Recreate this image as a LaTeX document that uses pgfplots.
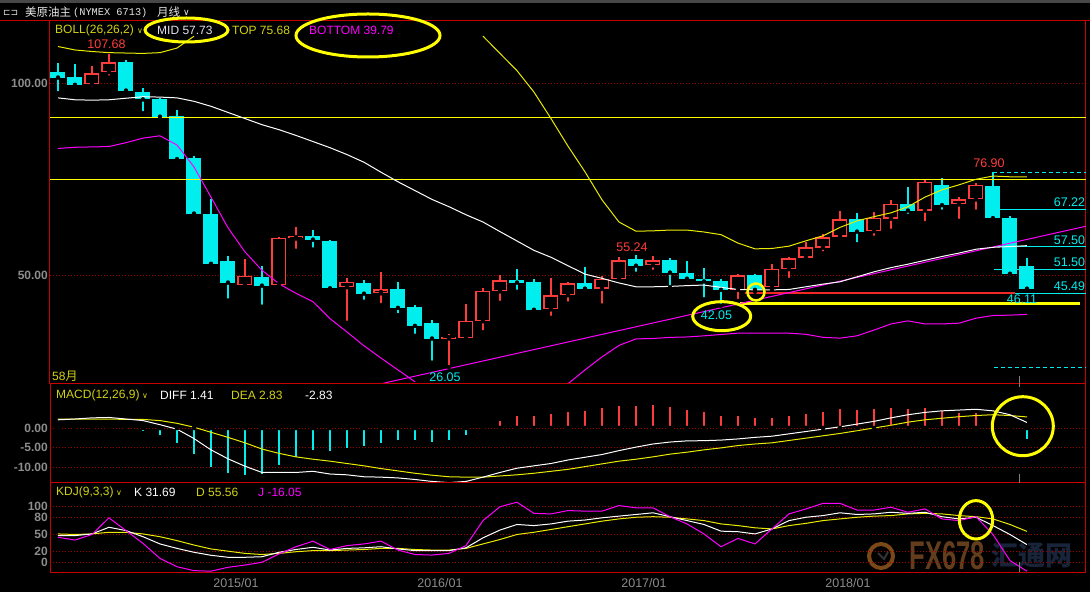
\documentclass[border=0pt]{standalone}
\usepackage{fontspec}
\setmainfont{Liberation Sans}
\newfontfamily\cjk{Noto Sans CJK SC}
\newfontfamily\mono{Liberation Mono}
\newfontfamily\dv{DejaVu Sans}
\usepackage{pgfplots}
\usepackage{pgfplotstable}
\pgfplotsset{compat=1.18}

\definecolor{bred}{RGB}{200,0,0}
\definecolor{gred}{RGB}{165,0,0}
\definecolor{ccyan}{RGB}{0,238,238}
\definecolor{cred}{RGB}{255,60,60}
\definecolor{lred}{RGB}{240,40,40}
\definecolor{byel}{RGB}{235,235,0}
\definecolor{hyel}{RGB}{255,255,0}
\definecolor{mag}{RGB}{255,0,255}
\definecolor{tgray}{RGB}{140,140,140}
\definecolor{lyel}{RGB}{210,210,20}
\definecolor{midw}{RGB}{225,225,240}
\definecolor{wmbrown}{RGB}{100,62,28}
\definecolor{wmblue}{RGB}{24,36,58}

% monthly candles, falling months (cyan): index open high low close
\pgfplotstableread{
i o h l c
0 103.1 105.5 97.5 101.6
1 101.7 105.1 99.1 99.7
4 105.7 106.2 97.6 98.2
5 97.8 98.8 92.3 95.9
6 96.0 96.2 90.3 91.4
7 91.6 93.1 79.4 80.3
8 80.6 81.1 65.5 66.1
9 66.0 69.8 52.2 53.0
10 53.7 55.0 43.4 48.1
12 49.6 52.4 41.8 47.3
15 60.3 61.8 56.7 59.3
16 59.0 59.2 46.5 46.6
18 48.1 48.8 43.1 45.2
20 46.4 48.3 39.6 41.5
21 41.7 42.2 34.2 36.8
22 37.5 38.3 27.2 33.5
27 48.8 51.6 45.7 48.1
28 48.3 49.0 40.2 41.0
31 48.0 52.2 46.4 46.5
34 54.2 55.24 50.4 52.5
36 54.0 54.5 46.9 50.7
37 50.6 53.7 48.1 49.1
38 49.0 51.9 43.7 48.4
39 48.5 49.0 42.05 46.2
41 50.1 50.4 45.7 46.2
47 64.6 66.3 58.1 61.4
50 68.6 73.1 65.5 66.9
52 73.6 75.3 66.6 68.3
55 73.3 76.9 64.8 64.9
56 64.9 65.5 49.2 50.4
57 52.4 54.5 46.1 46.5
}\downbars

% rising months (red, hollow)
\pgfplotstableread{
i o h l c
2 99.8 104.6 98.7 102.7
3 103.0 107.68 101.6 105.6
11 47.4 54.3 46.5 49.8
13 47.4 60.0 46.8 59.7
14 59.6 62.6 56.4 60.3
17 46.9 49.2 37.6 48.2
19 45.3 50.9 42.2 46.3
23 33.5 34.6 26.05 34.0
24 33.6 42.5 33.1 38.1
25 38.0 46.7 35.1 45.9
26 45.8 50.2 42.8 48.7
29 41.1 49.2 38.9 44.8
30 44.8 48.3 42.6 47.9
32 46.5 49.8 42.1 49.0
33 49.0 54.7 48.8 53.9
35 52.6 54.96 50.9 53.9
40 46.2 50.4 43.3 50.0
42 46.9 52.9 46.2 51.6
43 51.6 54.9 48.8 54.4
44 54.6 58.8 53.8 57.3
45 57.2 60.8 55.7 59.9
46 60.1 66.8 59.4 64.6
48 61.5 66.5 59.8 64.9
49 64.8 69.7 61.6 68.6
51 66.9 74.9 63.6 74.3
53 68.5 70.5 64.2 69.8
54 69.8 74.0 66.6 73.6
}\upbars

% BOLL(26,26,2)
\pgfplotstableread{
i top mid bot
0 109.7 96.3 83.1
1 108.8 95.8 83.4
2 108.4 95.7 83.5
3 108.1 95.8 83.6
4 108.0 96.2 84.6
5 107.9 96.6 85.8
6 108.1 96.5 86.4
7 109.3 96.3 84.0
8 112.4 95.4 78.3
9 nan 94.1 70.4
10 nan 92.5 62.4
11 nan 90.9 56.1
12 nan 89.3 51.3
13 nan 88.0 47.8
14 nan 86.5 45.3
15 nan 84.9 43.1
16 nan 83.3 38.7
17 nan 81.5 35.2
18 nan 79.5 31.6
19 nan 76.9 28.4
20 nan 74.4 25.3
21 nan 72.1 22.2
22 nan 69.8 nan
23 nan 67.9 nan
24 nan 65.8 nan
25 112.4 63.9 nan
26 107.9 61.4 nan
27 103.4 58.95 nan
28 97.8 56.5 nan
29 90.9 54.7 nan
30 83.7 52.5 21.7
31 77.0 50.3 25.3
32 69.7 49.2 28.7
33 63.9 48.0 31.7
34 61.5 47.0 33.4
35 61.6 47.0 33.5
36 61.8 47.1 33.8
37 61.8 47.3 33.9
38 61.3 47.45 34.2
39 60.6 46.85 34.55
40 58.4 46.3 34.9
41 56.9 46.2 34.9
42 57.0 46.2 34.9
43 57.6 46.3 34.9
44 59.0 47.0 34.6
45 60.3 47.7 33.8
46 62.5 48.3 33.6
47 64.2 49.6 34.2
48 65.3 50.9 35.7
49 66.3 52.0 37.3
50 67.9 52.9 38.1
51 70.4 53.9 37.3
52 72.3 54.9 37.3
53 73.6 55.8 37.5
54 75.05 56.8 38.8
55 75.9 57.3 39.5
56 75.7 57.5 39.6
57 75.68 57.73 39.79
}\boll

% MACD(12,26,9)
\pgfplotstableread{
i diff dea m
0 2.1 2.3 0.3
1 2.3 2.3 0.1
2 2.6 2.3 0.3
3 2.7 2.3 0.6
4 2.3 2.2 0.05
5 1.9 2.2 -0.7
6 0.85 1.9 -1.7
7 -0.3 1.2 -3.8
8 -2.7 0.2 -6.6
9 -5.6 -1.1 -9.9
10 -7.9 -2.4 -11.6
11 -9.8 -3.8 -12.1
12 -11.4 -5.4 -11.8
13 -11.4 -6.5 -9.6
14 -11.4 -7.4 -7.4
15 -11.1 -8.0 -5.6
16 -11.8 -8.5 -5.8
17 -12.0 -9.1 -5.0
18 -12.5 -9.7 -4.5
19 -12.6 -10.4 -3.8
20 -12.8 -11.0 -3.2
21 -13.2 -11.6 -3.2
22 -13.7 -12.1 -3.5
23 -14.0 -12.5 -3.1
24 -13.7 -12.6 -1.8
25 -12.6 -12.6 0.2
26 -11.4 -12.3 1.9
27 -10.3 -12.0 3.1
28 -9.7 -11.6 3.1
29 -9.1 -11.1 3.6
30 -8.2 -10.6 4.1
31 -7.5 -9.9 4.4
32 -6.8 -9.2 5.0
33 -5.8 -8.5 5.6
34 -4.9 -8.0 5.6
35 -4.1 -7.4 5.9
36 -3.6 -6.7 5.4
37 -3.3 -6.2 4.6
38 -3.25 -5.6 4.1
39 -3.1 -5.1 3.1
40 -2.8 -4.5 3.1
41 -2.4 -4.1 2.6
42 -2.1 -3.8 2.6
43 -1.5 -3.2 3.1
44 -0.9 -2.6 3.6
45 -0.3 -2.0 4.1
46 0.3 -1.4 4.9
47 1.0 -0.7 4.6
48 1.7 0.0 4.9
49 2.6 0.7 5.1
50 3.4 1.5 4.9
51 4.0 2.1 5.1
52 4.4 2.5 4.4
53 4.6 2.9 3.8
54 4.8 3.2 3.8
55 4.4 3.4 2.0
56 3.4 3.2 -0.15
57 1.41 2.83 -2.83
}\macd

% KDJ(9,3,3)
\pgfplotstableread{
i k d j
0 48 51 45
1 48 50 40
2 51 51 50
3 63 54 80
4 57 54 57
5 46 51 34
6 33 46 7
7 25 39 -8
8 18 31 -15
9 12.6 24 -16
10 9 20 -9
11 9 16 -5
12 10 14 0
13 18 16 15
14 23 19 28
15 27 21 38
16 22 21 23
17 25 22 30
18 26 23 33
19 28 25 38
20 24 25 22
21 21 23 14
22 21 22 13
23 21 22 16
24 26 25 30
25 44 33 75
26 58 41 100
27 68 50 108
28 66 54 88
29 69 59 87
30 74 64 93
31 76 69 92
32 80 74 92
33 83 78 102
34 86 81 98
35 89 82 98
36 82 81 82
37 75 78 69
38 68 75 51
39 56 69 28
40 55 66 43
41 51 62 33
42 60 60 60
43 75 66 87
44 81 70 96
45 84 75 106
46 89 78 106
47 86 81 94
48 87 83 94
49 90 84 99
50 88 87 90
51 90 88 96
52 82 87 78
53 78 84 75
54 81 82 82
55 66 78 50
56 50 68 3
57 31.69 55.56 -16.05
}\kdj

\pgfplotsset{
  panel/.style={
    at={(50pt,#1)}, anchor=south west, scale only axis, width=1036pt,
    xmin=-0.47, xmax=60.47, xtick=\empty,
    axis line style={bred, line width=1pt},
    major tick length=0pt,
    ymajorgrids, grid style={gred, line width=0.9pt, dash pattern=on 1pt off 2pt},
    yticklabel style={font=\bfseries\fontsize{12}{12}\selectfont, text=tgray, anchor=east, inner sep=2pt},
    unbounded coords=jump,
  },
  candle/.style 2 args={only marks, mark=none,
    /pgfplots/error bars/y dir=plus, /pgfplots/error bars/y explicit,
    /pgfplots/error bars/error mark=none,
    /pgfplots/error bars/error bar style={draw=#1, line width=#2}},
}

\begin{document}
\begin{tikzpicture}
\fill[black] (0,0) rectangle (1090pt,592pt);
\clip (0,0) rectangle (1090pt,592pt);

% watermark
\begin{scope}[yshift=592pt, x=1pt, y=-1pt]
\draw[wmbrown!85!orange, line width=4pt] (881,556) circle[radius=12pt];
\draw[black!60!gray, line width=2pt] (878,553) -- (884,559) -- (888,552);
\node[text=wmbrown, inner sep=0pt] at (947.5,556) {\scalebox{0.64}[1]{\bfseries\fontsize{40}{40}\selectfont FX678}};
\node[text=wmblue, inner sep=0pt] at (1032,556) {\cjk\bfseries\fontsize{27}{27}\selectfont 汇通网};
\end{scope}

% price panel
\begin{axis}[panel=208pt, height=363pt, ymin=21.63, ymax=116.36,
  ytick={50,100}, yticklabels={50.00,100.00}]
\addplot[candle={ccyan}{1.2pt}] table[x=i, y=l, y error plus expr=\thisrow{h}-\thisrow{l}] {\downbars};
\addplot[candle={ccyan}{15pt}] table[x=i, y=c, y error plus expr=\thisrow{o}-\thisrow{c}] {\downbars};
\addplot[candle={cred}{1.2pt}] table[x=i, y=l, y error plus expr=\thisrow{h}-\thisrow{l}] {\upbars};
\addplot[candle={cred}{15pt}] table[x=i, y=o, y error plus expr=\thisrow{c}-\thisrow{o}] {\upbars};
\addplot[candle={black}{12.4pt}] table[x=i, y expr=\thisrow{o}+0.34, y error plus expr=\thisrow{c}-\thisrow{o}-0.68] {\upbars};
% drawn levels
\addplot[hyel, line width=1.3pt] coordinates {(-0.47,91.23) (60.47,91.23)};
\addplot[hyel, line width=1.3pt] coordinates {(-0.47,75.05) (60.47,75.05)};
\addplot[lred, line width=2pt] coordinates {(40.4,45.25) (56.3,45.25)};
\addplot[hyel, line width=2.5pt] coordinates {(40.1,42.6) (60.1,42.6)};
\addplot[ccyan, line width=1pt, dash pattern=on 4pt off 3pt] coordinates {(55.0,76.9) (60.47,76.9)};
\addplot[ccyan, line width=1pt] coordinates {(55.06,67.22) (60.47,67.22)};
\addplot[ccyan, line width=1pt] coordinates {(55.06,57.5) (60.47,57.5)};
\addplot[ccyan, line width=1pt] coordinates {(55.06,51.5) (60.47,51.5)};
\addplot[ccyan, line width=1pt] coordinates {(56.3,45.3) (60.47,45.3)};
\addplot[ccyan, line width=1pt, dash pattern=on 4pt off 3pt] coordinates {(55.06,26.0) (60.47,26.0)};
\addplot[mag, line width=1pt] coordinates {(18.94,21.63) (60.47,62.8)};
% bands
\addplot[byel, line width=1pt] table[x=i, y=top] {\boll};
\addplot[white, line width=1pt] table[x=i, y=mid] {\boll};
\addplot[mag, line width=1pt] table[x=i, y=bot] {\boll};
\end{axis}

% MACD panel
\begin{axis}[panel=109pt, height=99pt, ymin=-14.10, ymax=11.28,
  ytick={-10,-5,0}, yticklabels={-10.00,-5.00,0.00}]
\addplot[candle={cred}{1.3pt}] table[x=i, y expr=0, y error plus expr={max(\thisrow{m},0)}] {\macd};
\addplot[candle={ccyan}{1.3pt}] table[x=i, y expr=0, y error plus expr={min(\thisrow{m},0)}] {\macd};
\addplot[byel, line width=1pt] table[x=i, y=dea] {\macd};
\addplot[white, line width=1pt] table[x=i, y=diff] {\macd};
\end{axis}

% KDJ panel
\begin{axis}[panel=19.7pt, height=89.3pt, ymin=-18, ymax=142.6,
  ytick={0,20,50,80,100}, yticklabels={0,20,50,80,100},
  xtick={10,22,34,46}, xticklabels={2015/01,2016/01,2017/01,2018/01},
  xticklabel style={font=\fontsize{12.5}{12.5}\selectfont, text=tgray, anchor=center, yshift=-10.7pt, xshift=8pt}]
\addplot[byel, line width=1pt] table[x=i, y=d] {\kdj};
\addplot[white, line width=1pt] table[x=i, y=k] {\kdj};
\addplot[mag, line width=1pt] table[x=i, y=j] {\kdj};
\end{axis}

% annotations, in pixel coordinates of the reference
\begin{scope}[yshift=592pt, x=1pt, y=-1pt,
  lbl/.style={anchor=west, inner sep=0pt, font=\fontsize{12}{14}\selectfont},
  val/.style={inner sep=0pt, font=\fontsize{12.5}{14}\selectfont}]
\fill[black!72] (0,0) rectangle (1090,3);
\draw[bred, line width=1pt] (0,21) -- (1090,21);
\node[lbl, text=white!88!black] at (3,12.5) {\dv\fontsize{9}{9}\selectfont ⊏⊐};
\node[lbl, text=white!90!black] at (25,12.5) {\cjk\fontsize{11.5}{12}\selectfont 美原油主};
\node[lbl, text=white!90!black] at (73,12.5) {\mono\fontsize{10.3}{12}\selectfont (NYMEX 6713)};
\node[lbl, text=white!90!black] at (157,12.5) {\cjk\fontsize{11.5}{12}\selectfont 月线};
\node[lbl, text=white!90!black] at (183,13) {\dv\fontsize{9}{9}\selectfont ∨};
% BOLL header
\node[lbl, text=lyel] at (55,30) {BOLL(26,26,2)};
\node[lbl, text=lyel] at (137,31) {\dv\fontsize{8}{8}\selectfont ∨};
\node[lbl, text=midw] at (157,30) {MID 57.73};
\node[lbl, text=lyel] at (232,30) {TOP 75.68};
\node[lbl, text=mag] at (309,30) {BOTTOM 39.79};
% MACD header
\node[lbl, text=lyel] at (56,395) {MACD(12,26,9)};
\node[lbl, text=lyel] at (142,396) {\dv\fontsize{8}{8}\selectfont ∨};
\node[lbl, text=white] at (160,395) {DIFF 1.41};
\node[lbl, text=lyel] at (231,395) {DEA 2.83};
\node[lbl, text=white] at (305,395) {-2.83};
% KDJ header
\node[lbl, text=lyel] at (56,492.5) {KDJ(9,3,3)};
\node[lbl, text=lyel] at (116,493.5) {\dv\fontsize{8}{8}\selectfont ∨};
\node[lbl, text=white] at (134,492.5) {K 31.69};
\node[lbl, text=lyel] at (196,492.5) {D 55.56};
\node[lbl, text=mag] at (258,492.5) {J -16.05};
% value labels
\node[val, text=cred] at (106.5,44.5) {107.68};
\node[val, text=cred] at (632,247) {55.24};
\node[val, text=ccyan] at (445,377) {26.05};
\node[val, text=ccyan] at (716.5,315.5) {42.05};
\node[val, text=cred] at (989,163) {76.90};
\node[val, text=ccyan] at (1069.5,202) {67.22};
\node[val, text=ccyan] at (1069.5,240) {57.50};
\node[val, text=ccyan] at (1069.5,262) {51.50};
\node[val, text=ccyan] at (1069.5,286) {45.49};
\node[val, text=ccyan] at (1022,299) {46.11};
\node[lbl, text=lyel] at (52,376.5) {58{\cjk 月}};
% cursor
\draw[gray, line width=1pt] (1019,376) -- (1019,387);
\draw[gray, line width=1pt] (1019,474) -- (1019,483);
\draw[gray, line width=1pt] (1019,562) -- (1019,572);
% yellow marks
\draw[hyel, line width=3pt] (186.5,30) ellipse [x radius=41.5pt, y radius=12pt];
\draw[hyel, line width=3pt] (368,35.5) ellipse [x radius=72pt, y radius=21.5pt];
\draw[hyel, line width=3pt] (721.7,316.2) ellipse [x radius=29pt, y radius=14.5pt];
\draw[hyel, line width=2.5pt] (756,292) circle [radius=8.5pt];
\draw[hyel, line width=3pt] (1022.8,426.2) ellipse [x radius=30.5pt, y radius=29.5pt];
\draw[hyel, line width=3pt] (976,519.8) ellipse [x radius=16.7pt, y radius=19.2pt];
\end{scope}
\end{tikzpicture}
\end{document}
